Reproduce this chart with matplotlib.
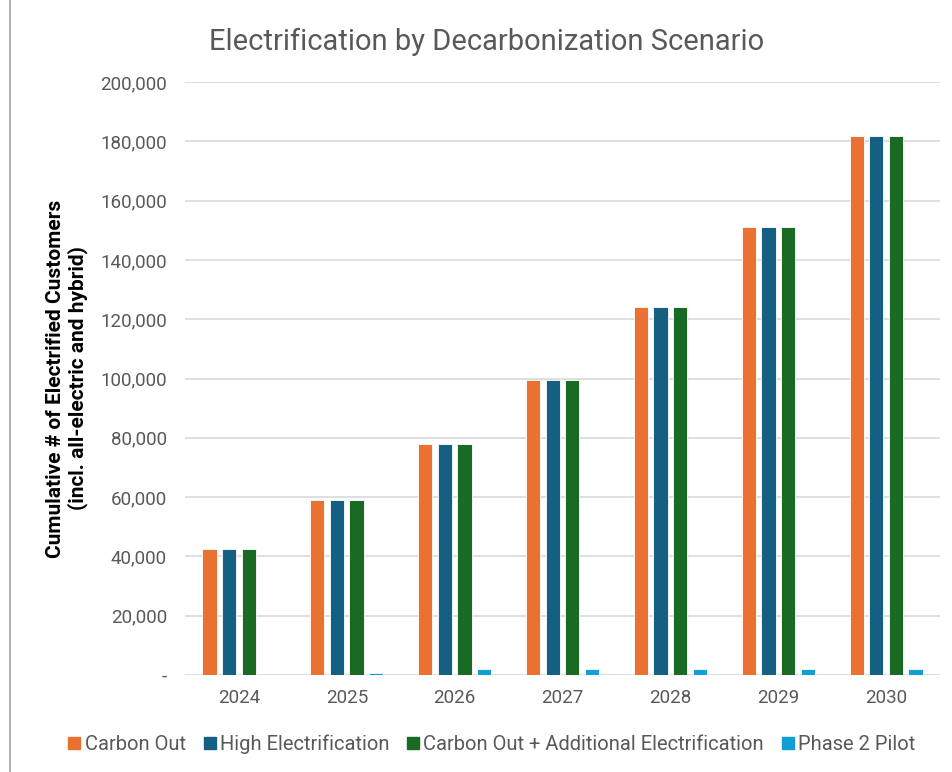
import matplotlib
matplotlib.use("Agg")
import matplotlib.pyplot as plt
from matplotlib.ticker import FuncFormatter
from matplotlib.lines import Line2D
import numpy as np

plt.rcParams['font.family'] = ['Roboto', 'DejaVu Sans']

years = ["2024", "2025", "2026", "2027", "2028", "2029", "2030"]
carbon_out = [42600, 58900, 77900, 99600, 124000, 151200, 181700]
high_electrification = [42600, 58900, 77900, 99600, 124000, 151200, 181700]
carbon_out_additional = [42600, 58900, 77900, 99600, 124000, 151200, 181700]
phase2_pilot = [0, 700, 1900, 1900, 1900, 1900, 1900]

series_names = ["Carbon Out", "High Electrification",
                "Carbon Out + Additional Electrification", "Phase 2 Pilot"]
series_values = [carbon_out, high_electrification, carbon_out_additional, phase2_pilot]
colors = ["#E97132", "#156082", "#196B24", "#0F9ED5"]

yticks = [0, 20000, 40000, 60000, 80000, 100000, 120000, 140000, 160000, 180000, 200000]

fig = plt.figure(figsize=(9.52, 7.72), dpi=100)
ax = fig.add_axes([185 / 952, 1 - 675 / 772, (940 - 185) / 952, (675 - 82) / 772])

x = np.arange(len(years))
slot = 0.182
width = 0.132
for i, (name, vals, c) in enumerate(zip(series_names, series_values, colors)):
    offs = (i - 1.5) * slot
    ax.bar(x + offs, vals, width=width, color=c, edgecolor="white",
           linewidth=0.6, label=name, zorder=3)

ax.set_xlim(-0.5, len(years) - 0.5)
ax.set_ylim(0, 200000)
ax.set_yticks(yticks)
ax.yaxis.set_major_formatter(FuncFormatter(lambda v, p: "-" if v == 0 else f"{int(v):,}"))
ax.set_xticks(x)
ax.set_xticklabels(years)
ax.grid(axis="y", color="#d9d9d9", linewidth=1.2, zorder=0)
for s in ax.spines.values():
    s.set_visible(False)
ax.tick_params(axis="both", length=0, labelsize=13.5, labelcolor="#595959")
ax.tick_params(axis="y", pad=13)
ax.tick_params(axis="x", pad=10)

ax.set_ylabel("Cumulative # of Electrified Customers\n(incl. all-electric and hybrid)",
              fontsize=15, fontweight="bold", color="black", labelpad=9,
              linespacing=1.1)

fig.text(487 / 952, 1 - 42 / 772, "Electrification by Decarbonization Scenario",
         ha="center", va="center", fontsize=21, color="#595959")

handles = [Line2D([0], [0], marker="s", linestyle="none", markersize=9,
                  markerfacecolor=c, markeredgecolor=c) for c in colors]
fig.legend(handles, series_names, loc="center", bbox_to_anchor=(490 / 952, 1 - 744 / 772),
           ncol=4, frameon=False, fontsize=14.5, handletextpad=0.0, columnspacing=0.7,
           handlelength=1.0, labelcolor="#595959")

fig.add_artist(Line2D([10 / 952, 10 / 952], [0, 1], color="#a6a6a6", linewidth=1.2,
                      transform=fig.transFigure))

fig.savefig("out.png", dpi=100, facecolor="white")
